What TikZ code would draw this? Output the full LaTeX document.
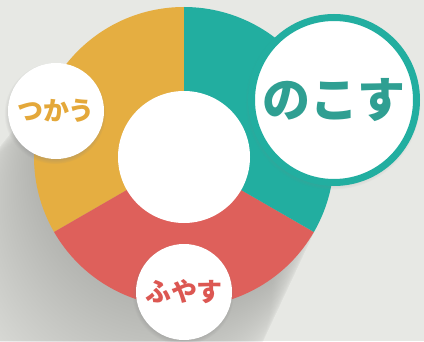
\documentclass[tikz,border=0pt]{standalone}
\usepackage{fontspec}
\newfontfamily\jpfont{Noto Sans CJK JP}
\usetikzlibrary{calc,shadows,fadings}

\definecolor{bgc}{HTML}{E7E8E4}
\definecolor{ringyellow}{HTML}{E5AE41}
\definecolor{ringteal}{HTML}{22AEA0}
\definecolor{ringred}{HTML}{DE605B}
\definecolor{useText}{HTML}{E4A83A}
\definecolor{keepText}{HTML}{2F9F92}
\definecolor{growText}{HTML}{DC5752}

\begin{document}
\begin{tikzpicture}[x=1pt, y=1pt,
    bubble/.style={circle, fill=white, inner sep=0pt, minimum size=96pt,
      font=\jpfont\bfseries\fontsize{26}{26}\selectfont,
      circular drop shadow={shadow scale=1.06, shadow xshift=-1pt,
        shadow yshift=-2pt, opacity=0.45}},
    bigbubble/.style={bubble, minimum size=165pt, draw=ringteal, line width=7pt,
      font=\jpfont\bfseries\fontsize{48}{48}\selectfont}]
  \fill[bgc] (0,0) rectangle (424,341);
  \clip (0,0) rectangle (424,341);
  \coordinate (c) at (184,184);

  % long shadow of the ring
  \foreach \s in {0,3,...,150}
    \fill[black, opacity=0.0045] ($(c)+(238:\s)$) circle ({150+0.12*\s});

  % ring
  \fill[ringyellow] (c) -- ++(90:150) arc (90:210:150) -- cycle;
  \fill[ringred] (c) -- ++(210:150) arc (210:330:150) -- cycle;
  \fill[ringteal] (c) -- ++(330:150) arc (330:450:150) -- cycle;
  \fill[white] (c) circle (66);

  % labels
  \node[bubble, text=useText] (use) at (56,230) {つかう};
  \node[bubble, text=growText] (grow) at (184,49) {ふやす};
  \node[bigbubble, text=keepText] (keep) at (334,241) {のこす};
\end{tikzpicture}
\end{document}
